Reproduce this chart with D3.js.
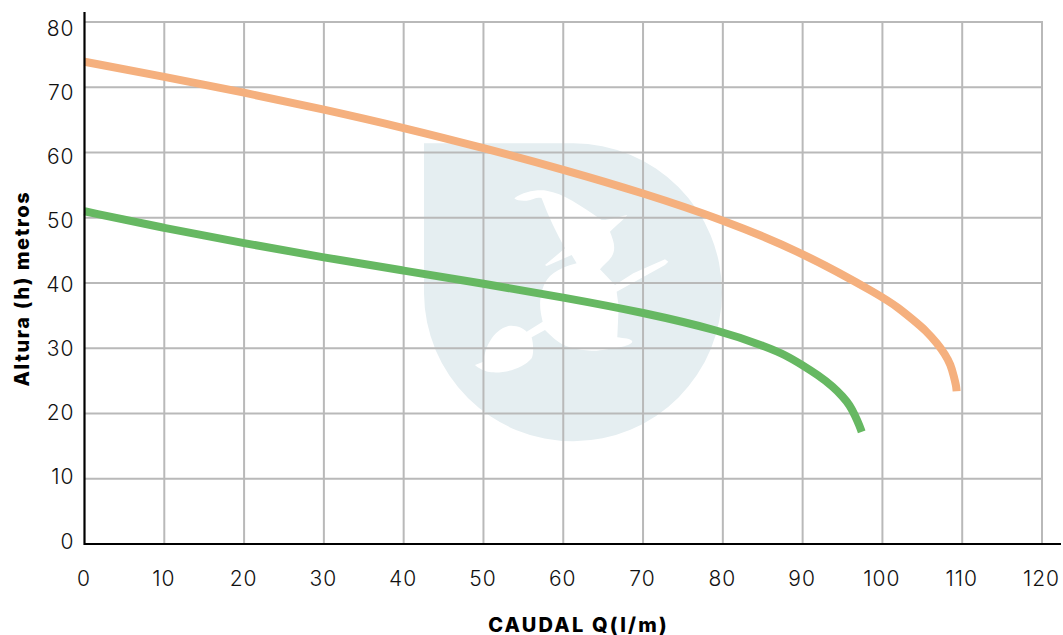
<!DOCTYPE html>
<html><head><meta charset="utf-8">
<script src="https://cdn.jsdelivr.net/npm/d3@7/dist/d3.min.js"></script>
<style>html,body{margin:0;padding:0;background:#fff;overflow:hidden}svg{display:block}</style>
</head><body><svg id="c" width="1063" height="635"></svg>
<script>
const xTicks = [0,10,20,30,40,50,60,70,80,90,100,110,120];
const yTicks = [0,10,20,30,40,50,60,70,80];
const orangeQ = [0,10,20,30,40,50,60,70,80,90,100,102,103.9,105.5,106.85,107.85,108.55,108.95,109.25,109.3];
const orangeH = [73.9,71.6,69.2,66.6,63.8,60.7,57.4,53.8,49.7,44.7,37.9,36.2,34.3,32.65,30.75,29.1,27.5,25.7,24.2,23.4];
const greenQ = [0,10,20,30,40,50,60,70,80,85.5,87.8,90,91.9,93.85,95.05,95.9,96.6,97.1,97.4];
const greenH = [51,48.4,46.1,43.9,41.9,39.9,37.8,35.5,32.6,30.2,29,27.4,25.9,24.1,22.55,21.3,19.6,18.2,17.2];
const xTitle = "CAUDAL Q(l/m)";
const yTitle = "Altura (h) metros";
const FONT = "Inter, sans-serif";

const svg = d3.select("#c");
const x = d3.scaleLinear().domain([0,120]).range([84.5,1042]);
const y = d3.scaleLinear().domain([0,80]).range([544,22]);
const yLabel = d3.scaleLinear().domain([0,80]).range([541,28]);

// watermark logo
const logo = svg.append("g").attr("transform","translate(420,130) scale(0.3333)");
logo.append("path").attr("fill","#e5eef1")
  .attr("d","M12,40 L460,40 A447,447 0 1 1 12,490 Z");
logo.append("path").attr("fill","#fff")
  .attr("d","M283,205 C310,185 350,178 380,182 C430,190 480,225 545,270 C560,272 590,262 622,255 C610,270 590,285 570,305 C580,330 590,355 575,380 C565,395 550,405 540,418 L585,465 L640,430 L735,388 L745,395 L735,405 L590,485 L596,530 L592,622 C610,625 635,625 637,635 C630,650 580,655 530,662 C490,662 440,655 415,635 C400,625 385,610 375,600 L335,622 C340,640 342,670 335,685 C310,715 260,730 215,727 C195,725 175,715 165,705 L190,695 C195,650 220,600 265,588 C290,585 310,595 320,605 L368,575 C360,540 355,510 370,470 C380,440 410,415 470,400 L455,375 L380,408 L375,405 L435,355 C410,310 385,260 365,205 C350,200 340,210 320,212 C305,213 290,212 283,205 Z");

// grid
svg.append("g").selectAll("line").data(yTicks.slice(1)).join("line")
  .attr("x1",x(0)).attr("x2",x(120)).attr("y1",d=>y(d)).attr("y2",d=>y(d))
  .attr("stroke","#b9b9b9").attr("stroke-width",2);
svg.append("g").selectAll("line").data(xTicks.slice(1)).join("line")
  .attr("x1",d=>x(d)).attr("x2",d=>x(d)).attr("y1",y(80)-1).attr("y2",y(0))
  .attr("stroke","#b9b9b9").attr("stroke-width",2);

// curves
const line = d3.line().x(d=>x(d[0])).y(d=>y(d[1])).curve(d3.curveBasis);
svg.append("path").datum(orangeQ.map((q,i)=>[q,orangeH[i]])).attr("d",line)
  .attr("fill","none").attr("stroke","#f5b07e").attr("stroke-width",8);
svg.append("path").datum(greenQ.map((q,i)=>[q,greenH[i]])).attr("d",line)
  .attr("fill","none").attr("stroke","#66b862").attr("stroke-width",8);

// axes
svg.append("line").attr("x1",84.5).attr("x2",84.5).attr("y1",12).attr("y2",545)
  .attr("stroke","#000").attr("stroke-width",2.2);
svg.append("line").attr("x1",84).attr("x2",1061).attr("y1",544).attr("y2",544)
  .attr("stroke","#000").attr("stroke-width",2.2);

// tick labels
svg.append("g").selectAll("text").data(xTicks).join("text")
  .attr("x",d=>x(d)-0.5).attr("y",586).attr("text-anchor","middle")
  .attr("font-family",FONT).attr("font-weight",300).attr("letter-spacing",1).attr("font-size",21).attr("fill","#111").text(d=>d);
svg.append("g").selectAll("text").data(yTicks).join("text")
  .attr("x",74.5).attr("y",d=>yLabel(d)+7.5).attr("text-anchor","end")
  .attr("font-family",FONT).attr("font-weight",300).attr("letter-spacing",1).attr("font-size",21).attr("fill","#111").text(d=>d);

// titles
svg.append("text").attr("x",578.5).attr("y",631.5).attr("text-anchor","middle")
  .attr("font-family",FONT).attr("font-weight",800).attr("letter-spacing",2.2).attr("font-size",20).attr("fill","#000").text(xTitle);
svg.append("text").attr("transform","translate(29,288.5) rotate(-90)").attr("text-anchor","middle")
  .attr("font-family",FONT).attr("font-weight",800).attr("letter-spacing",1.6).attr("font-size",20).attr("fill","#000").text(yTitle);
</script></body></html>
